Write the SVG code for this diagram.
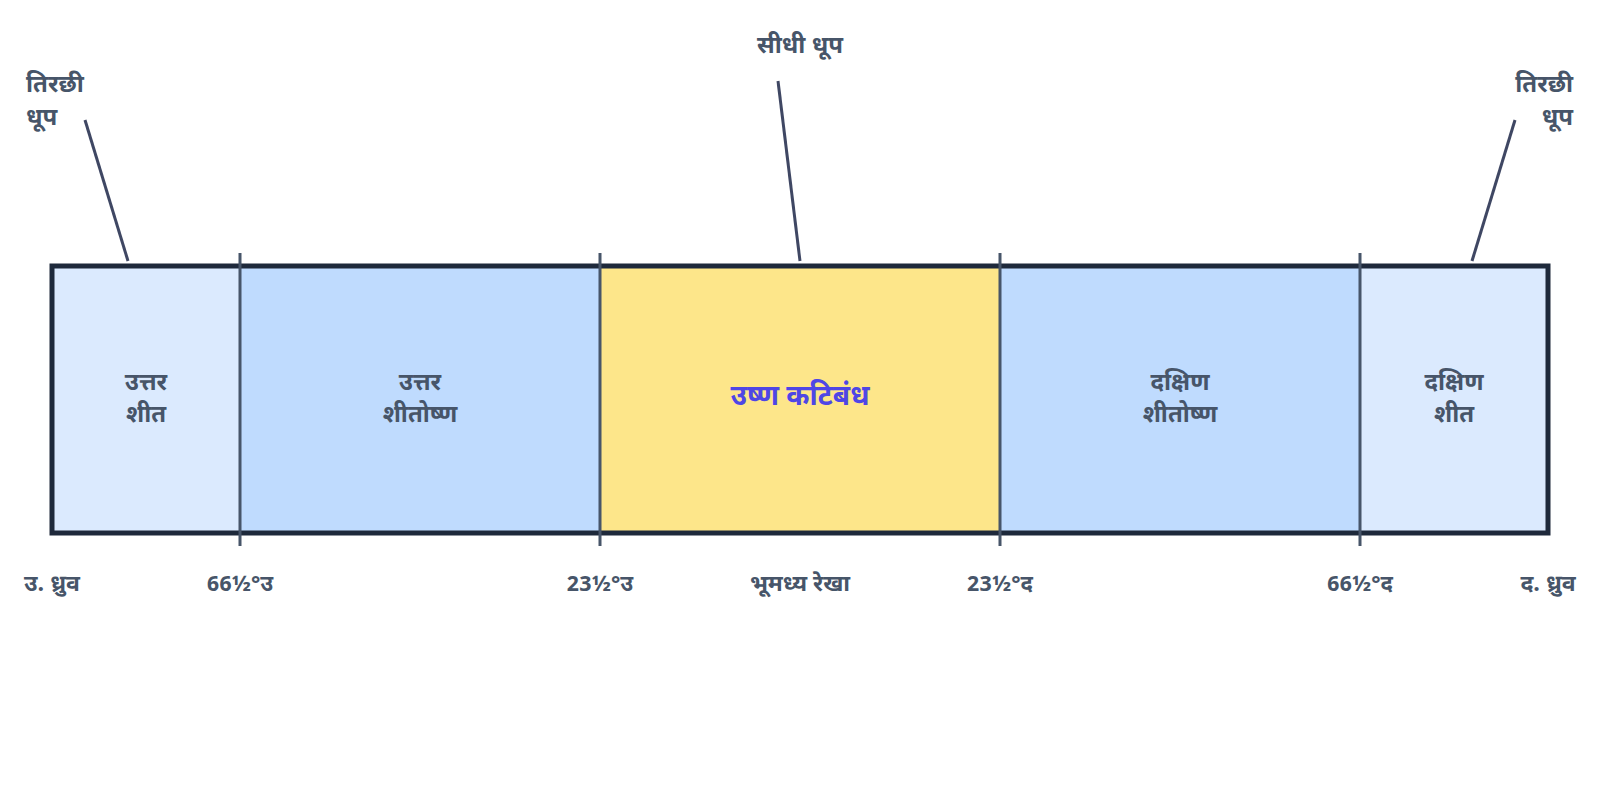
<svg xmlns="http://www.w3.org/2000/svg" width="1600" height="800" viewBox="0 0 1600 800">
<style>
.t{font-family:"Noto Sans Devanagari","Noto Sans",sans-serif;font-weight:700;fill:#475569;font-size:24px}
.c{text-anchor:middle}
.main{font-size:28px;fill:#4f46e5}
.lat{font-size:23px}
.num{font-size:22px}
.zone{stroke:none}
.div{stroke:#475569;stroke-width:3}
.ray{stroke:#3f4763;stroke-width:3;fill:none}
</style>
<rect width="1600" height="800" fill="#ffffff"/>
<g id="zones">
<g id="north-frigid"><rect class="zone" x="52" y="266" width="188" height="267" fill="#dbeafe"/>
<text class="t c" x="146" y="390">उत्तर</text><text class="t c" x="146" y="422">शीत</text></g>
<g id="north-temperate"><rect class="zone" x="240" y="266" width="360" height="267" fill="#bfdbfe"/>
<text class="t c" x="420" y="390">उत्तर</text><text class="t c" x="420" y="422">शीतोष्ण</text></g>
<g id="torrid"><rect class="zone" x="600" y="266" width="400" height="267" fill="#fde68a"/>
<text class="t c main" x="800" y="405">उष्ण कटिबंध</text></g>
<g id="south-temperate"><rect class="zone" x="1000" y="266" width="360" height="267" fill="#bfdbfe"/>
<text class="t c" x="1180" y="390">दक्षिण</text><text class="t c" x="1180" y="422">शीतोष्ण</text></g>
<g id="south-frigid"><rect class="zone" x="1360" y="266" width="188" height="267" fill="#dbeafe"/>
<text class="t c" x="1454" y="390">दक्षिण</text><text class="t c" x="1454" y="422">शीत</text></g>
<rect id="frame" x="52" y="266" width="1496" height="267" fill="none" stroke="#1e293b" stroke-width="5"/>
</g>
<g id="connectors">
<line class="div" x1="240" y1="253" x2="240" y2="546"/>
<line class="div" x1="600" y1="253" x2="600" y2="546"/>
<line class="div" x1="1000" y1="253" x2="1000" y2="546"/>
<line class="div" x1="1360" y1="253" x2="1360" y2="546"/>
<line class="ray" x1="85" y1="120" x2="128" y2="261"/>
<line class="ray" x1="778" y1="81" x2="800" y2="261"/>
<line class="ray" x1="1515" y1="120" x2="1472" y2="261"/>
</g>
<g id="sun-labels">
<g id="slant-left"><text class="t" x="26" y="92">तिरछी</text><text class="t" x="26" y="125">धूप</text></g>
<g id="direct"><text class="t c" x="800" y="53">सीधी धूप</text></g>
<g id="slant-right"><text class="t" x="1573" y="92" text-anchor="end">तिरछी</text><text class="t" x="1573" y="125" text-anchor="end">धूप</text></g>
</g>
<g id="latitudes">
<text class="t c lat" x="52" y="591">उ. ध्रुव</text>
<text class="t c num" x="240" y="591">66½°उ</text>
<text class="t c num" x="600" y="591">23½°उ</text>
<text class="t c lat" x="800" y="591">भूमध्य रेखा</text>
<text class="t c num" x="1000" y="591">23½°द</text>
<text class="t c num" x="1360" y="591">66½°द</text>
<text class="t c lat" x="1548" y="591">द. ध्रुव</text>
</g>
</svg>
